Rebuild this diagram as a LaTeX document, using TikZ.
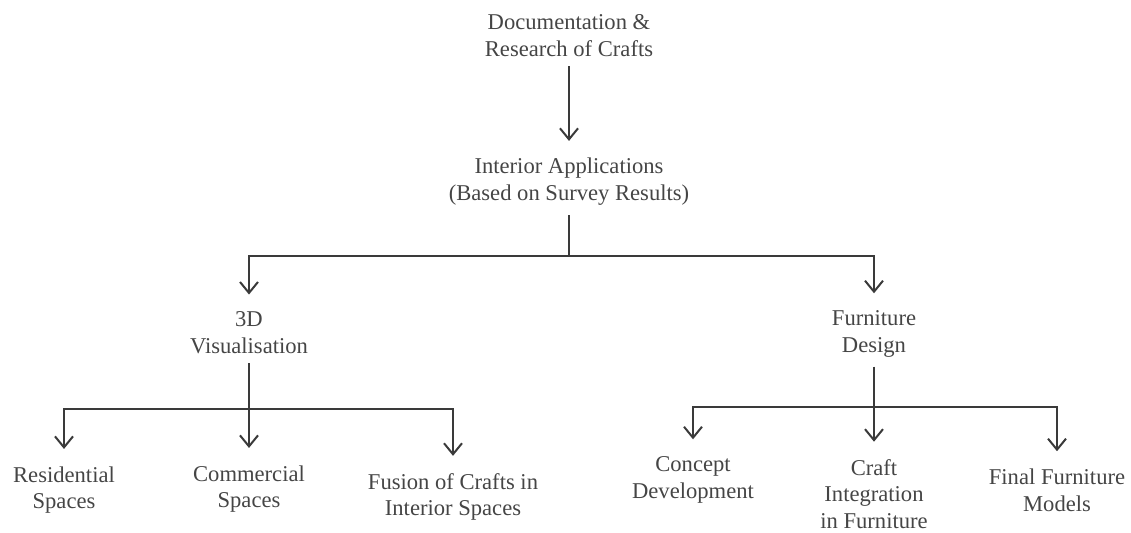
\documentclass[tikz,border=0pt]{standalone}
\usepackage{fontspec}
\setmainfont{Liberation Serif}
\newfontfamily\lserif{Liberation Serif}
\usetikzlibrary{arrows.meta}
\definecolor{txtgray}{HTML}{454545}
\definecolor{linegray}{HTML}{3A3A3A}
\tikzset{
         lbl/.style={align=center,text=txtgray,inner xsep=2pt,inner ysep=4.5pt,
                     font=\lserif\fontsize{11.3}{13.4}\selectfont},
         wire/.style={draw=linegray,line width=1pt},
         down/.style={wire,-{Straight Barb[length=5.5pt,width=9pt,line width=1pt]},shorten >=4pt}
        }

\begin{document}
\begin{tikzpicture}[x=0.5pt,y=-0.5pt]
\useasboundingbox (0,0) rectangle (1131,533); % page frame

%%% Top of the tree

\node[lbl] (doc) at (569,36) {Documentation \&\\Research of Crafts}; % first step
\node[lbl] (app) at (569,182) {Interior Applications\\(Based on Survey Results)}; % second step
\draw[down] (doc.south) -- (app.north); % doc to applications
\coordinate (b1) at (569,256); % upper branch point
\draw[wire] (app.south) -- (b1); % stem

%%% Two main branches

\node[lbl] (vis) at (249,333) {3D\\Visualisation}; % left branch
\node[lbl] (fur) at (874,334) {Furniture\\Design}; % right branch
\draw[down] (b1) -| (vis.north); % to visualisation
\draw[down] (b1) -| (fur.north); % to furniture

%%% Left leaves

\node[lbl] (res) at (64,490) {Residential\\Spaces}; % leaf 1
\node[lbl] (com) at (249,489) {Commercial\\Spaces}; % leaf 2
\node[lbl] (fus) at (453,497) {Fusion of Crafts in\\Interior Spaces}; % leaf 3
\coordinate (b2) at (249,409); % left branch point
\draw[down] (vis.south) -- (com.north); % middle arrow
\draw[down] (b2) -| (res.north); % left arrow
\draw[down] (b2) -| (fus.north); % right arrow

%%% Right leaves

\node[lbl] (con) at (693,480) {Concept\\Development}; % leaf 4
\node[lbl] (cra) at (874,494) {Craft\\Integration\\in Furniture}; % leaf 5
\node[lbl] (fin) at (1057,490) {Final Furniture\\Models}; % leaf 6
\coordinate (b3) at (874,407); % right branch point
\draw[down] (fur.south) -- (cra.north); % middle arrow
\draw[down] (b3) -| (con.north); % left arrow
\draw[down] (b3) -| (fin.north); % right arrow
\end{tikzpicture}
\end{document}
